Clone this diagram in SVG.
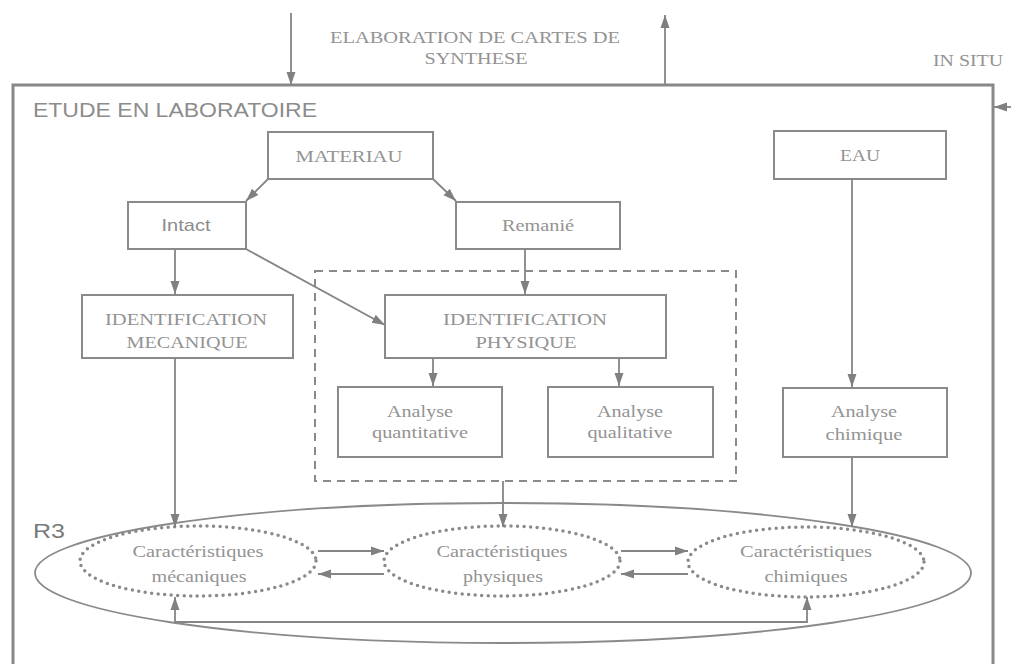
<svg xmlns="http://www.w3.org/2000/svg" width="1011" height="664" viewBox="0 0 1011 664">
<style>
.bg{fill:#ffffff}
.box{fill:#ffffff;stroke:#8a8a8a;stroke-width:2}
.outer{fill:none;stroke:#888;stroke-width:3}
.dash{fill:none;stroke:#8a8a8a;stroke-width:2;stroke-dasharray:8 6}
.dot{fill:none;stroke:#8a8a8a;stroke-width:3.5;stroke-dasharray:0 6.5;stroke-linecap:round}
.big{fill:none;stroke:#8a8a8a;stroke-width:1.8}
.ln{fill:none;stroke:#858585;stroke-width:1.8}
.s{font-family:"Liberation Serif",serif;font-size:17px;fill:#939393;text-anchor:middle}
.a{font-family:"Liberation Sans",Arial,sans-serif;fill:#8c8c8c}
</style>
<defs>
<marker id="ar" markerUnits="userSpaceOnUse" markerWidth="14" markerHeight="12" viewBox="0 0 14 12" refX="13" refY="6" orient="auto-start-reverse">
<path d="M0,1.5 L13,6 L0,10.5 Z" fill="#808080"/>
</marker>
</defs>
<rect class="bg" x="0" y="0" width="1011" height="664"/>

<g id="top-labels">
<text class="s" x="475" y="43" textLength="290" lengthAdjust="spacingAndGlyphs">ELABORATION DE CARTES DE</text>
<text class="s" x="476" y="64" textLength="103" lengthAdjust="spacingAndGlyphs">SYNTHESE</text>
<text class="s" x="968" y="66" textLength="70" lengthAdjust="spacingAndGlyphs">IN SITU</text>
</g>

<g id="etude-laboratoire">
<path class="outer" d="M13,670 L13,85 L993,85 L993,670"/>
<text class="a" x="33" y="117" font-size="20" textLength="284" lengthAdjust="spacingAndGlyphs">ETUDE EN LABORATOIRE</text>
</g>

<g id="materiau">
<rect class="box" x="268" y="132" width="165" height="47"/>
<text class="s" x="349" y="162" textLength="107" lengthAdjust="spacingAndGlyphs">MATERIAU</text>
</g>
<g id="intact">
<rect class="box" x="128" y="202" width="118" height="47"/>
<text class="a" x="186" y="231" font-size="17" text-anchor="middle" textLength="49" lengthAdjust="spacingAndGlyphs">Intact</text>
</g>
<g id="remanie">
<rect class="box" x="456" y="202" width="164" height="47"/>
<text class="s" x="538" y="231" textLength="72" lengthAdjust="spacingAndGlyphs">Remanié</text>
</g>
<g id="eau">
<rect class="box" x="774" y="131" width="172" height="48"/>
<text class="s" x="860" y="161" textLength="40" lengthAdjust="spacingAndGlyphs">EAU</text>
</g>
<g id="identification-mecanique">
<rect class="box" x="82" y="295" width="211" height="63"/>
<text class="s" x="186" y="325" textLength="162" lengthAdjust="spacingAndGlyphs">IDENTIFICATION</text>
<text class="s" x="187" y="348" textLength="121" lengthAdjust="spacingAndGlyphs">MECANIQUE</text>
</g>
<g id="groupe-physique">
<rect class="dash" x="315" y="271" width="421" height="210"/>
</g>
<g id="identification-physique">
<rect class="box" x="385" y="295" width="281" height="63"/>
<text class="s" x="525" y="325" textLength="164" lengthAdjust="spacingAndGlyphs">IDENTIFICATION</text>
<text class="s" x="526" y="348" textLength="101" lengthAdjust="spacingAndGlyphs">PHYSIQUE</text>
</g>
<g id="analyse-quantitative">
<rect class="box" x="338" y="387" width="164" height="70"/>
<text class="s" x="420" y="417" textLength="66" lengthAdjust="spacingAndGlyphs">Analyse</text>
<text class="s" x="420" y="438" textLength="96" lengthAdjust="spacingAndGlyphs">quantitative</text>
</g>
<g id="analyse-qualitative">
<rect class="box" x="548" y="387" width="165" height="70"/>
<text class="s" x="630" y="417" textLength="66" lengthAdjust="spacingAndGlyphs">Analyse</text>
<text class="s" x="630" y="438" textLength="85" lengthAdjust="spacingAndGlyphs">qualitative</text>
</g>
<g id="analyse-chimique">
<rect class="box" x="783" y="388" width="164" height="69"/>
<text class="s" x="864" y="417" textLength="66" lengthAdjust="spacingAndGlyphs">Analyse</text>
<text class="s" x="864" y="440" textLength="77" lengthAdjust="spacingAndGlyphs">chimique</text>
</g>

<g id="r3">
<ellipse class="big" cx="503" cy="573" rx="468" ry="70"/>
<text class="a" x="33" y="538" font-size="21" style="fill:#7a7a7a" textLength="32" lengthAdjust="spacingAndGlyphs">R3</text>
</g>
<g id="caracteristiques-mecaniques">
<ellipse class="dot" cx="198" cy="561" rx="118" ry="35"/>
<text class="s" x="198" y="557" textLength="131" lengthAdjust="spacingAndGlyphs">Caractéristiques</text>
<text class="s" x="199" y="582" textLength="95" lengthAdjust="spacingAndGlyphs">mécaniques</text>
</g>
<g id="caracteristiques-physiques">
<ellipse class="dot" cx="502" cy="561" rx="118" ry="35"/>
<text class="s" x="502" y="557" textLength="131" lengthAdjust="spacingAndGlyphs">Caractéristiques</text>
<text class="s" x="503" y="582" textLength="80" lengthAdjust="spacingAndGlyphs">physiques</text>
</g>
<g id="caracteristiques-chimiques">
<ellipse class="dot" cx="806" cy="562" rx="118" ry="35"/>
<text class="s" x="806" y="557" textLength="132" lengthAdjust="spacingAndGlyphs">Caractéristiques</text>
<text class="s" x="806" y="582" textLength="83" lengthAdjust="spacingAndGlyphs">chimiques</text>
</g>

<g id="connectors">
<line class="ln" x1="291" y1="13" x2="291" y2="85" marker-end="url(#ar)"/>
<line class="ln" x1="665" y1="85" x2="665" y2="15" marker-end="url(#ar)"/>
<line class="ln" x1="1011" y1="107" x2="994" y2="107" marker-end="url(#ar)"/>
<line class="ln" x1="268" y1="179" x2="246" y2="201" marker-end="url(#ar)"/>
<line class="ln" x1="433" y1="179" x2="456" y2="201" marker-end="url(#ar)"/>
<line class="ln" x1="175" y1="249" x2="175" y2="294" marker-end="url(#ar)"/>
<line class="ln" x1="246" y1="249" x2="385" y2="325" marker-end="url(#ar)"/>
<line class="ln" x1="525" y1="249" x2="525" y2="294" marker-end="url(#ar)"/>
<line class="ln" x1="433" y1="358" x2="433" y2="386" marker-end="url(#ar)"/>
<line class="ln" x1="619" y1="358" x2="619" y2="386" marker-end="url(#ar)"/>
<line class="ln" x1="852" y1="179" x2="852" y2="387" marker-end="url(#ar)"/>
<line class="ln" x1="175" y1="358" x2="175" y2="527" marker-end="url(#ar)"/>
<line class="ln" x1="503" y1="481" x2="503" y2="527" marker-end="url(#ar)"/>
<line class="ln" x1="852" y1="457" x2="852" y2="527" marker-end="url(#ar)"/>
<line class="ln" x1="318" y1="551" x2="384" y2="551" marker-end="url(#ar)"/>
<line class="ln" x1="384" y1="574" x2="318" y2="574" marker-end="url(#ar)"/>
<line class="ln" x1="621" y1="551" x2="688" y2="551" marker-end="url(#ar)"/>
<line class="ln" x1="688" y1="574" x2="621" y2="574" marker-end="url(#ar)"/>
<path class="ln" d="M175,597 L175,622 L807,622 L807,597" marker-start="url(#ar)" marker-end="url(#ar)"/>
</g>
</svg>
